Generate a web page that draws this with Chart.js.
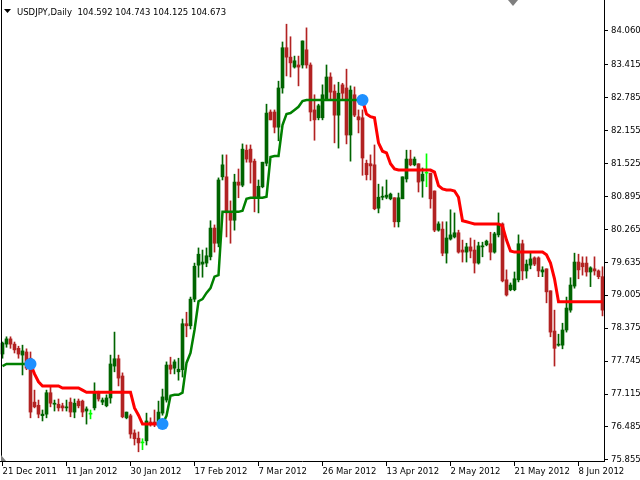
<!DOCTYPE html>
<html>
<head>
<meta charset="utf-8">
<title>USDJPY Daily</title>
<script src="https://cdn.jsdelivr.net/npm/chart.js@4.4.1/dist/chart.umd.min.js"></script>
<style>
  html, body { margin: 0; padding: 0; background: #fff; }
  canvas { display: block; }
</style>
</head>
<body>
<canvas id="priceChart" width="640" height="480"></canvas>
<script>
const symbolTitle = "USDJPY,Daily  104.592 104.743 104.125 104.673";

const dateLabels = ["21 Dec 2011", "11 Jan 2012", "30 Jan 2012", "17 Feb 2012", "7 Mar 2012",
  "26 Mar 2012", "13 Apr 2012", "2 May 2012", "21 May 2012", "8 Jun 2012"];
const labelEvery = 16;

const priceTicks = [84.060, 83.415, 82.785, 82.155, 81.525, 80.895, 80.265, 79.635,
  79.005, 78.375, 77.745, 77.115, 76.485, 75.855];

const opens = [
  77.88, 78.07, 78.17, 78.07, 77.99, 77.86, 77.92, 77.80, 76.96, 76.90,
  76.70, 76.73, 77.14, 76.92, 76.92, 76.89, 76.85, 76.96, 76.77, 76.98,
  76.98, 76.79, 76.73, 76.85, 77.14, 76.96, 76.89, 77.04, 77.65, 77.79,
  77.46, 76.66, 76.70, 76.37, 76.27, 76.18, 76.22, 76.58, 76.58, 76.56,
  76.75, 77.00, 77.67, 77.61, 77.54, 77.58, 78.46, 78.42, 78.93, 79.58,
  79.60, 79.62, 79.74, 80.29, 80.00, 81.27, 81.27, 80.58, 80.44, 81.17,
  81.11, 81.78, 81.80, 81.57, 80.88, 81.08, 81.53, 82.51, 82.51, 82.22,
  82.97, 83.74, 83.56, 83.37, 83.41, 83.41, 83.70, 83.41, 82.55, 82.40,
  82.40, 82.74, 83.18, 82.91, 82.45, 83.03, 82.97, 82.07, 82.84, 82.42,
  82.40, 81.53, 81.52, 81.50, 80.67, 80.88, 80.88, 80.85, 80.87, 80.41,
  80.85, 81.23, 81.61, 81.50, 81.52, 81.19, 81.34, 81.34, 81.00, 80.25,
  80.27, 79.81, 80.08, 80.12, 80.20, 79.87, 79.83, 79.93, 79.87, 79.62,
  79.93, 79.97, 79.99, 79.83, 80.16, 80.37, 79.30, 79.11, 79.11, 79.30,
  79.99, 79.47, 79.58, 79.72, 79.72, 79.45, 79.51, 79.09, 78.32, 78.05,
  78.05, 78.34, 78.72, 79.18, 79.64, 79.62, 79.62, 79.45, 79.51, 79.47,
  79.36
];
const highs = [
  78.11, 78.21, 78.21, 78.11, 78.03, 78.05, 77.98, 77.92, 77.19, 77.00,
  76.81, 77.19, 77.25, 77.00, 77.02, 76.94, 77.00, 77.04, 77.02, 77.02,
  77.00, 76.87, 76.81, 77.33, 77.17, 77.04, 77.10, 77.86, 78.30, 77.86,
  77.52, 76.77, 76.73, 76.43, 76.39, 76.26, 76.75, 76.66, 76.81, 76.98,
  77.21, 77.73, 77.82, 77.77, 77.80, 78.55, 78.68, 78.97, 79.62, 79.91,
  79.87, 79.91, 80.43, 80.35, 81.25, 81.69, 81.69, 80.81, 81.32, 81.42,
  81.90, 81.88, 81.88, 81.61, 81.21, 81.55, 82.66, 82.55, 82.55, 83.10,
  83.85, 84.19, 83.95, 83.58, 83.58, 83.87, 84.12, 83.45, 82.84, 82.66,
  83.03, 83.41, 83.26, 83.03, 83.08, 83.06, 83.33, 83.01, 82.99, 82.55,
  82.55, 81.59, 81.69, 81.88, 81.13, 81.08, 81.21, 80.96, 80.87, 80.96,
  81.27, 81.78, 81.78, 81.65, 81.52, 81.44, 81.71, 81.34, 81.00, 80.41,
  80.41, 80.41, 80.64, 80.58, 80.25, 80.06, 80.00, 80.10, 80.06, 80.02,
  80.02, 80.06, 80.21, 80.21, 80.58, 80.39, 79.49, 79.24, 79.45, 80.16,
  80.06, 79.68, 79.83, 79.74, 79.74, 79.55, 79.51, 79.09, 78.72, 78.26,
  78.47, 78.97, 79.34, 79.81, 79.79, 79.74, 79.74, 79.55, 79.74, 79.49,
  79.55
];
const lows = [
  77.80, 78.01, 77.99, 77.90, 77.80, 77.48, 77.58, 76.66, 76.85, 76.66,
  76.60, 76.66, 76.87, 76.79, 76.79, 76.79, 76.79, 76.68, 76.66, 76.85,
  76.68, 76.54, 76.64, 76.81, 76.98, 76.91, 76.87, 76.94, 77.54, 77.27,
  76.66, 76.64, 76.27, 76.14, 76.01, 76.05, 76.14, 76.50, 76.49, 76.52,
  76.71, 76.96, 77.50, 77.50, 77.38, 77.44, 78.21, 78.36, 78.88, 79.35,
  79.35, 79.55, 79.68, 79.83, 79.93, 81.21, 80.12, 80.00, 80.25, 80.87,
  81.08, 81.55, 81.15, 80.60, 80.58, 81.06, 81.48, 82.36, 82.11, 81.96,
  82.87, 83.20, 83.18, 83.35, 83.01, 83.35, 83.35, 82.34, 81.97, 82.36,
  82.36, 82.74, 82.74, 81.92, 81.82, 82.74, 81.90, 81.57, 82.42, 82.11,
  81.30, 81.21, 81.21, 80.64, 80.58, 80.83, 80.85, 80.83, 80.31, 80.31,
  80.85, 81.17, 81.48, 81.48, 80.98, 80.88, 81.08, 80.67, 80.22, 80.23,
  79.76, 79.62, 80.06, 80.10, 79.81, 79.64, 79.64, 79.72, 79.43, 79.60,
  79.74, 79.95, 79.68, 79.81, 80.12, 79.26, 78.99, 79.09, 79.09, 79.26,
  79.30, 79.33, 79.51, 79.57, 79.36, 79.36, 78.86, 78.21, 77.65, 78.03,
  77.98, 78.30, 78.68, 79.14, 79.32, 79.39, 79.37, 79.17, 79.39, 79.32,
  78.61
];
const closes = [
  78.09, 78.17, 78.07, 77.96, 77.88, 77.94, 77.61, 76.77, 76.87, 76.73,
  76.73, 77.14, 76.94, 76.94, 76.85, 76.85, 76.87, 76.77, 76.94, 76.89,
  76.77, 76.83, 76.73, 77.14, 77.02, 77.00, 77.04, 77.69, 77.79, 77.42,
  76.68, 76.77, 76.35, 76.26, 76.18, 76.18, 76.60, 76.54, 76.54, 76.77,
  77.06, 77.67, 77.59, 77.73, 77.59, 78.46, 78.42, 78.93, 79.56, 79.79,
  79.64, 79.76, 80.29, 80.00, 81.21, 81.50, 80.58, 80.44, 81.17, 81.11,
  81.80, 81.61, 81.55, 80.88, 81.09, 81.55, 82.49, 82.36, 82.22, 82.97,
  83.74, 83.56, 83.45, 83.49, 83.37, 83.87, 83.41, 82.51, 82.36, 82.63,
  82.84, 83.18, 82.89, 82.45, 82.87, 82.87, 82.07, 82.93, 82.45, 82.36,
  81.63, 81.31, 81.48, 80.66, 80.88, 80.90, 80.92, 80.94, 80.41, 80.87,
  81.27, 81.61, 81.50, 81.61, 81.17, 81.32, 81.34, 80.85, 80.25, 80.37,
  79.81, 80.10, 80.16, 80.20, 79.83, 79.83, 79.93, 79.85, 79.62, 79.95,
  79.95, 80.04, 79.83, 80.18, 80.37, 79.28, 79.01, 79.20, 79.32, 79.99,
  79.47, 79.60, 79.70, 79.60, 79.47, 79.49, 79.07, 78.30, 77.99, 78.07,
  78.34, 78.76, 79.20, 79.64, 79.49, 79.55, 79.45, 79.53, 79.47, 79.36,
  78.72
];

// trailing stop line, one value per bar
const trail = [
  77.65, 77.69, 77.69, 77.69, 77.69, 77.69, 77.69, 77.69, 77.50, 77.35,
  77.27, 77.27, 77.27, 77.27, 77.27, 77.23, 77.23, 77.23, 77.23, 77.23,
  77.19, 77.15, 77.15, 77.15, 77.15, 77.15, 77.15, 77.15, 77.15, 77.15,
  77.15, 77.15, 77.15, 76.85, 76.71, 76.54, 76.54, 76.54, 76.54, 76.54,
  76.54, 76.70, 77.08, 77.10, 77.10, 77.14, 77.71, 77.90, 78.34, 78.89,
  78.93, 79.05, 79.14, 79.36, 79.39, 80.60, 80.60, 80.60, 80.60, 80.60,
  80.62, 80.85, 80.87, 80.87, 80.87, 80.87, 80.89, 81.65, 81.67, 81.67,
  82.26, 82.47, 82.49, 82.55, 82.61, 82.72, 82.74, 82.74, 82.74, 82.74,
  82.74, 82.74, 82.74, 82.74, 82.74, 82.74, 82.74, 82.74, 82.74, 82.74,
  82.74, 82.47, 82.42, 82.40, 81.92, 81.76, 81.73, 81.52, 81.42, 81.40,
  81.40, 81.40, 81.40, 81.40, 81.40, 81.40, 81.40, 81.40, 81.36, 81.10,
  81.04, 81.02, 81.02, 81.00, 80.88, 80.43, 80.41, 80.39, 80.37, 80.37,
  80.37, 80.37, 80.37, 80.37, 80.37, 80.33, 80.06, 79.85, 79.83, 79.83,
  79.83, 79.83, 79.83, 79.83, 79.83, 79.83, 79.78, 79.62, 79.32, 78.88,
  78.88, 78.88, 78.88, 78.88, 78.88, 78.88, 78.88, 78.88, 78.88, 78.88,
  78.88
];
// bars where the stop flips side (blue dots)
const trailFlips = [7, 40, 90];

const bullColor = "#006400";
const bearColor = "#b22222";
const dojiColor = "#00ff00";
const upLineColor = "#008000";
const downLineColor = "#ff0000";
const fontFamily = "'DejaVu Sans', Verdana, sans-serif";
const font = { family: fontFamily, size: 8.5 };

function candleColor(i) {
  if (closes[i] > opens[i]) return bullColor;
  if (closes[i] < opens[i]) return bearColor;
  return dojiColor;
}

function buildTrailLines() {
  const up = [], down = [];
  let goingUp = true;
  trail.forEach((v, i) => {
    const flip = trailFlips.includes(i);
    up.push({ x: i, y: (goingUp || flip) ? v : null });
    down.push({ x: i, y: (!goingUp || flip) ? v : null });
    if (flip) goingUp = !goingUp;
  });
  return { up, down };
}

const framePlugin = {
  id: "framePlugin",
  afterDraw(chart) {
    const ctx = chart.ctx;
    const area = chart.chartArea;
    ctx.save();
    ctx.fillStyle = "#000";
    ctx.fillRect(1, area.top, 1, area.bottom - area.top);

    ctx.beginPath();
    ctx.moveTo(4, 9);
    ctx.lineTo(11, 9);
    ctx.lineTo(7.5, 13);
    ctx.closePath();
    ctx.fill();
    ctx.font = "8.5px " + fontFamily;
    ctx.textBaseline = "alphabetic";
    ctx.fillText(symbolTitle, 17, 15);

    ctx.fillStyle = "#7f7f7f";
    ctx.beginPath();
    ctx.moveTo(508, 0);
    ctx.lineTo(518, 0);
    ctx.lineTo(513, 6);
    ctx.closePath();
    ctx.fill();
    ctx.beginPath();
    ctx.moveTo(1, area.bottom - 6);
    ctx.lineTo(6, area.bottom);
    ctx.lineTo(1, area.bottom);
    ctx.closePath();
    ctx.fill();
    ctx.restore();
  }
};

function renderChart() {
  const idx = opens.map((_, i) => i);
  const colors = idx.map(candleColor);
  const lines = buildTrailLines();

  new Chart(document.getElementById("priceChart"), {
    type: "bar",
    data: {
      datasets: [
        {
          type: "line",
          data: trailFlips.map(i => ({ x: i, y: trail[i] })),
          showLine: false,
          pointRadius: 6,
          pointBorderWidth: 0,
          pointBackgroundColor: "#1e90ff",
          order: 0
        },
        {
          type: "line",
          data: lines.down,
          borderColor: downLineColor,
          borderWidth: 3,
          tension: 0,
          borderJoinStyle: "miter",
          borderCapStyle: "butt",
          pointRadius: 0,
          spanGaps: false,
          order: 1
        },
        {
          type: "line",
          data: lines.up,
          borderColor: upLineColor,
          borderWidth: 2.5,
          tension: 0,
          borderJoinStyle: "miter",
          borderCapStyle: "butt",
          pointRadius: 0,
          spanGaps: false,
          order: 1
        },
        {
          data: idx.map(i => ({ x: i, y: [opens[i], closes[i]] })),
          backgroundColor: colors,
          barThickness: 3,
          minBarLength: 1,
          grouped: false,
          order: 2
        },
        {
          data: idx.map(i => ({ x: i, y: [lows[i], highs[i]] })),
          backgroundColor: colors,
          barThickness: 1,
          grouped: false,
          order: 3
        }
      ]
    },
    options: {
      responsive: false,
      animation: false,
      layout: { padding: 0, autoPadding: false },
      plugins: { legend: { display: false }, tooltip: { enabled: false } },
      scales: {
        x: {
          type: "linear",
          bounds: "data",
          offset: false,
          min: -0.625,
          max: 150.375,
          afterBuildTicks: s => { s.ticks = dateLabels.map((_, k) => ({ value: k * labelEvery })); },
          afterFit: s => { s.height = 19; s.paddingLeft = 0; s.paddingRight = 0; },
          ticks: {
            callback: (v, k) => dateLabels[k],
            align: "start",
            autoSkip: false,
            maxRotation: 0,
            padding: 1,
            color: "#000",
            font
          },
          grid: { offset: false, drawOnChartArea: false, drawTicks: true, tickLength: 5, color: "#000" },
          border: { display: true, color: "#000" }
        },
        y: {
          type: "linear",
          position: "right",
          bounds: "data",
          min: 75.834,
          max: 84.653,
          afterBuildTicks: s => { s.ticks = priceTicks.map(v => ({ value: v })); },
          afterFit: s => { s.width = 36; s.paddingTop = 0; s.paddingBottom = 0; },
          ticks: {
            callback: v => v.toFixed(3),
            padding: 3,
            color: "#000",
            font
          },
          grid: { drawOnChartArea: false, drawTicks: true, tickLength: 4, color: "#000" },
          border: { display: true, color: "#000" }
        }
      }
    },
    plugins: [framePlugin]
  });
}

window.onload = renderChart;
</script>
</body>
</html>
